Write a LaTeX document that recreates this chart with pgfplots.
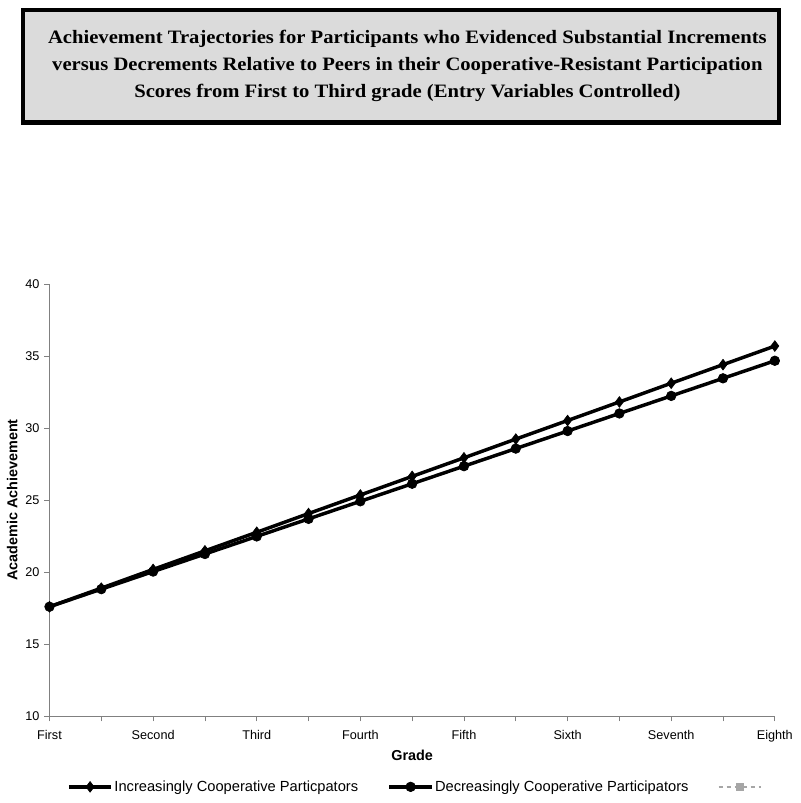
\documentclass[border=0pt]{standalone}
\usepackage{fontspec}
\setmainfont{Liberation Sans}
\newfontfamily\titlefont{Liberation Serif}
\usepackage{pgfplots}
\pgfplotsset{compat=1.18}

\begin{document}
\begin{tikzpicture}
% page frame (800 x 803 px at 0.75pt per px)
\path (0pt,0pt) rectangle (600pt,-602.25pt);

% title box
\draw[line width=3.2pt, fill=black!14] (17.25pt,-7.3pt) rectangle (584.25pt,-91.8pt);
\node[font=\titlefont\bfseries\fontsize{14.2}{20}\selectfont, align=center,
      xscale=1.09, transform shape]
  at (305.5pt,-49.5pt) {Achievement Trajectories for Participants who Evidenced Substantial Increments\\
  versus Decrements Relative to Peers in their Cooperative-Resistant Participation\\
  Scores from First to Third grade (Entry Variables Controlled)};

\begin{axis}[
  at={(37.125pt,-537pt)}, anchor=south west,
  scale only axis,
  width=544pt, height=324pt,
  xmin=0, xmax=7, ymin=10, ymax=40,
  axis lines*=left,
  axis line style={black!50, line width=0.6pt},
  tick style={black!50, line width=0.6pt},
  tick align=outside,
  major tick length=4pt, minor tick length=4pt,
  xtick={0,1,2,3,4,5,6,7},
  xticklabels={First,Second,Third,Fourth,Fifth,Sixth,Seventh,Eighth},
  minor xtick={0.5,1.5,2.5,3.5,4.5,5.5,6.5},
  ytick={10,15,20,25,30,35,40},
  /pgf/number format/assume math mode=true,
  ticklabel style={font=\fontsize{9.5}{11}\selectfont},
  xticklabel style={yshift=-3pt},
  xlabel={Grade},
  ylabel={Academic Achievement},
  label style={font=\bfseries\fontsize{10.8}{12}\selectfont},
  xlabel style={yshift=1pt},
  ylabel style={yshift=-1pt},
  clip=false,
  legend columns=3,
  legend style={draw=none, fill=none, at={(0.505,-0.164)}, anchor=center,
    font=\fontsize{11}{13}\selectfont,
    nodes={inner sep=1pt},
    /tikz/every even column/.append style={column sep=21pt},
    inner sep=0pt},
  legend image code/.code={
    \draw[mark repeat=2,mark phase=2,#1] plot coordinates {(0pt,0pt) (16pt,0pt) (32pt,0pt)};
  },
]
\addplot[black, line width=2.6pt, mark=diamond*, mark size=4pt, mark options={line width=0.5pt}]
  coordinates {
  (0,17.59) (0.5,18.88) (1,20.18) (1.5,21.47) (2,22.76) (2.5,24.06) (3,25.35)
  (3.5,26.64) (4,27.93) (4.5,29.23) (5,30.52) (5.5,31.81) (6,33.11) (6.5,34.40) (7,35.69)
  };
\addlegendentry{Increasingly Cooperative Particpators}
\addplot[black, line width=2.6pt, mark=*, mark size=3.6pt, mark options={line width=0.5pt}]
  coordinates {
  (0,17.59) (0.5,18.81) (1,20.03) (1.5,21.25) (2,22.47) (2.5,23.69) (3,24.91)
  (3.5,26.13) (4,27.35) (4.5,28.57) (5,29.79) (5.5,31.01) (6,32.23) (6.5,33.45) (7,34.67)
  };
\addlegendentry{Decreasingly Cooperative Participators}
\addlegendimage{black!35, dashed, line width=1pt, mark=square*, mark size=2.5pt, mark options={solid}}
\addlegendentry{}
\end{axis}
\end{tikzpicture}
\end{document}
